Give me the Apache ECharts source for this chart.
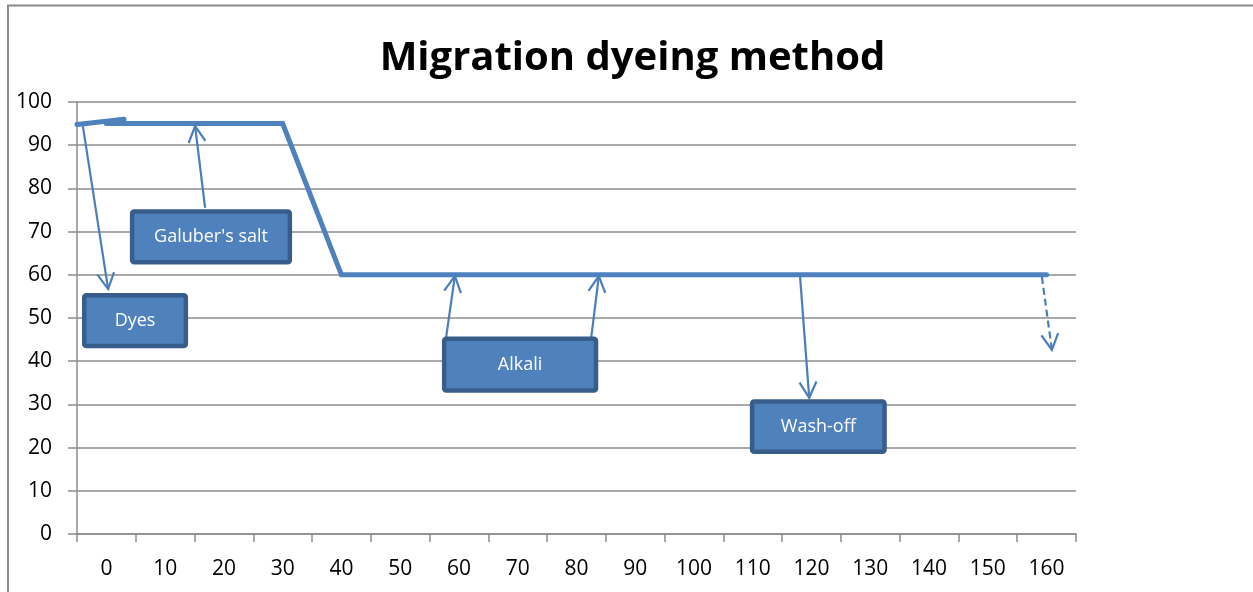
<!DOCTYPE html>
<html>
<head>
<meta charset="utf-8">
<script src="https://cdn.jsdelivr.net/npm/echarts@6/dist/echarts.min.js"></script>
<style>
html,body{margin:0;padding:0;background:#fff;}
#chart{width:1253px;height:592px;}
</style>
</head>
<body>
<div id="chart"></div>
<script>
// ---- data ----
var chartTitle = 'Migration dyeing method';
var categories = ['0','10','20','30','40','50','60','70','80','90','100','110','120','130','140','150','160'];
var yTicks = [0,10,20,30,40,50,60,70,80,90,100];
// temperature profile (x in minutes, y in value units)
var profileStartX = [-5, 3];
var profileStartY = [94.8, 96];
var profileX = [0, 30, 40, 160];
var profileY = [95, 95, 60, 60];
// annotation boxes (data units: left, right, bottom, top)
var boxLabels = ['Dyes', "Galuber's salt", 'Alkali', 'Wash-off'];
var boxX0 = [-4.15, 4.0, 57.1, 109.5];
var boxX1 = [13.9, 31.6, 83.7, 132.8];
var boxY0 = [43.0, 62.4, 32.7, 18.5];
var boxY1 = [55.8, 75.2, 45.7, 31.2];
// arrows (data units: from -> to), dashed flag
var arrowX0 = [-4.0, 16.8, 57.8, 82.5, 118.0, 159.2];
var arrowY0 = [94.4, 75.5, 45.4, 45.4, 60.4, 59.5];
var arrowX1 = [0.3, 15.1, 59.3, 83.8, 119.6, 160.9];
var arrowY1 = [56.7, 94.4, 59.7, 59.7, 31.5, 42.6];
var arrowDashed = [0, 0, 0, 0, 0, 1];

// ---- build ----
function zip(xs, ys){ return xs.map(function(x,i){ return [x, ys[i]]; }); }
var boxData = boxLabels.map(function(l,i){ return [boxX0[i], boxX1[i], boxY0[i], boxY1[i]]; });
var arrowData = arrowX0.map(function(x,i){ return [x, arrowY0[i], arrowX1[i], arrowY1[i], arrowDashed[i]]; });

var FONT = "'Open Sans', 'Noto Sans', sans-serif";
var LINE_COLOR = '#4f81bd';
var ARROW_COLOR = '#4a7ebb';
var GRID_COLOR = '#8c8c8c';

var chart = echarts.init(document.getElementById('chart'), null, {renderer:'canvas'});
var option = {
  animation: false,
  backgroundColor: '#ffffff',
  graphic: [
    {type:'polyline', z:100, silent:true, shape:{points:[[8,592],[8,5.5],[1253,5.5]]},
     style:{stroke:'#8a8a8a', lineWidth:2, fill:null}},
    {type:'text', x:632.5, y:59, z:100, silent:true,
     style:{text: chartTitle, font:"bold 40px 'Open Sans', sans-serif", fill:'#000',
            textAlign:'center', textVerticalAlign:'middle'}}
  ],
  grid: {left:77, right:177, top:102, bottom:58, containLabel:false},
  xAxis: [
    {type:'category', data: categories, boundaryGap:true,
     axisLine:{show:true, onZero:false, lineStyle:{color:GRID_COLOR, width:1.5}},
     axisTick:{show:true, interval:0, length:8, lineStyle:{color:GRID_COLOR, width:1.5}},
     axisLabel:{interval:0, color:'#000', fontSize:21, fontFamily:FONT, margin:25},
     splitLine:{show:false}},
    {type:'value', min:-5, max:165, show:false}
  ],
  yAxis: [
    {type:'value', min:0, max:100, interval:10,
     axisLine:{show:true, onZero:false, lineStyle:{color:GRID_COLOR, width:1.5}},
     axisTick:{show:true, length:9, lineStyle:{color:GRID_COLOR, width:1.5}},
     axisLabel:{color:'#000', fontSize:21, fontFamily:FONT, margin:25,
       formatter:function(v){ return yTicks.indexOf(v) >= 0 ? String(v) : ''; }},
     splitLine:{show:true, lineStyle:{color:GRID_COLOR, width:1.5}}}
  ],
  series: [
    {type:'line', xAxisIndex:1, yAxisIndex:0, data: zip(profileStartX, profileStartY),
     symbol:'none', lineStyle:{color:LINE_COLOR, width:5, cap:'round'}, z:3},
    {type:'line', xAxisIndex:1, yAxisIndex:0, data: zip(profileX, profileY),
     symbol:'none', lineStyle:{color:LINE_COLOR, width:5, cap:'round', join:'miter'}, z:3},
    {type:'custom', xAxisIndex:1, yAxisIndex:0, data: arrowData, clip:false, z:4,
     renderItem: function(params, api){
       var p0 = api.coord([api.value(0), api.value(1)]);
       var p1 = api.coord([api.value(2), api.value(3)]);
       var dashed = api.value(4) === 1;
       var dx = p1[0]-p0[0], dy = p1[1]-p0[1];
       var len = Math.sqrt(dx*dx+dy*dy);
       var ux = dx/len, uy = dy/len;
       var wl = 18, ang = 28*Math.PI/180;
       var ca = Math.cos(ang), sa = Math.sin(ang);
       var w1 = [p1[0] - wl*(ux*ca - uy*sa), p1[1] - wl*(uy*ca + ux*sa)];
       var w2 = [p1[0] - wl*(ux*ca + uy*sa), p1[1] - wl*(uy*ca - ux*sa)];
       return {type:'group', children:[
         {type:'line', shape:{x1:p0[0], y1:p0[1], x2:p1[0], y2:p1[1]},
          style:{stroke:ARROW_COLOR, lineWidth:2.2, lineDash: dashed ? [7,4] : null}},
         {type:'polyline', shape:{points:[w1, p1, w2]},
          style:{stroke:ARROW_COLOR, lineWidth:2.2, fill:null}}
       ]};
     }},
    {type:'custom', xAxisIndex:1, yAxisIndex:0, data: boxData, clip:false, z:5,
     renderItem: function(params, api){
       var a = api.coord([api.value(0), api.value(3)]);
       var b = api.coord([api.value(1), api.value(2)]);
       var bw = 4.5;
       return {type:'group', children:[
         {type:'rect', shape:{x:a[0]+bw/2, y:a[1]+bw/2, width:b[0]-a[0]-bw, height:b[1]-a[1]-bw, r:2},
          style:{fill:'#4f81bd', stroke:'#385d8a', lineWidth:bw}},
         {type:'text', x:(a[0]+b[0])/2, y:(a[1]+b[1])/2,
          style:{text: boxLabels[params.dataIndex], fill:'#ffffff',
                 font:"18px 'Open Sans', sans-serif", textAlign:'center', textVerticalAlign:'middle'}}
       ]};
     }}
  ]
};
chart.setOption(option);
</script>
</body>
</html>
